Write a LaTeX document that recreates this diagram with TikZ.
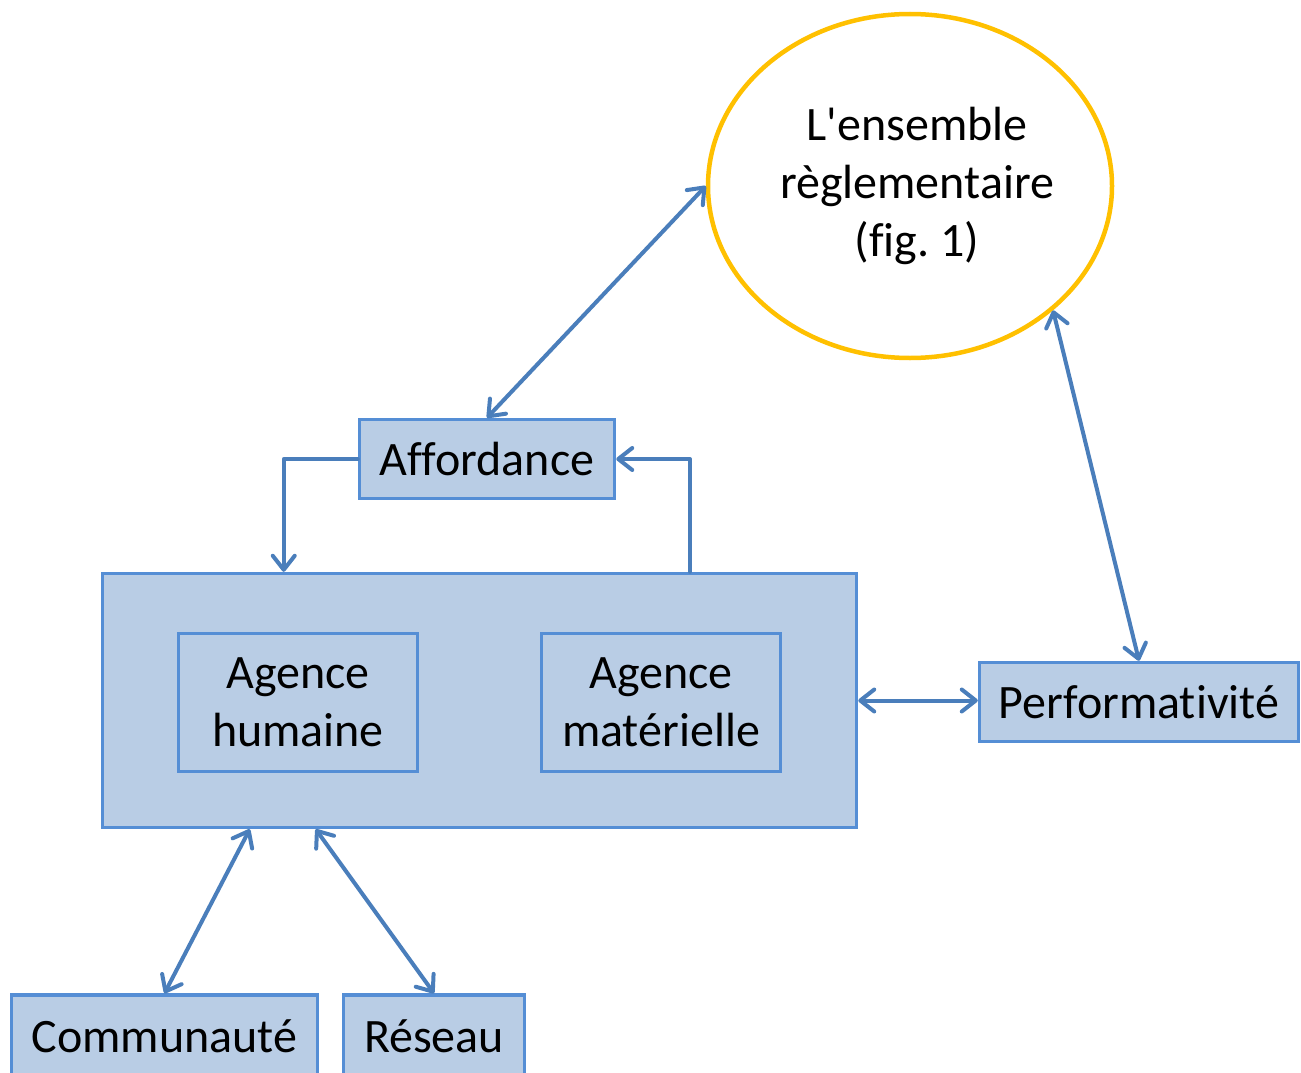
\documentclass[tikz,border=0pt]{standalone}
\usepackage{fontspec}
\setmainfont{Carlito}[Ligatures={NoCommon,TeXOff}]
\usetikzlibrary{arrows.meta,shapes.geometric}
\definecolor{boxfill}{HTML}{B9CDE5}
\definecolor{boxline}{HTML}{558ED5}
\definecolor{arrcol}{HTML}{4A7EBB}
\definecolor{ellcol}{HTML}{FFC000}
\frenchspacing
\begin{document}
\begin{tikzpicture}[x=1pt,y=-1pt,
  every node/.style={font=\fontsize{48}{58}\selectfont, align=center, inner sep=0pt},
  bluebox/.style={draw=boxline, fill=boxfill, line width=3.5pt, rectangle},
  conn/.style={draw=arrcol, line width=4pt, line cap=round, line join=round},
  tip/.style={-{Straight Barb[length=14pt,width=22pt,line cap=round,line join=round]}},
  dtip/.style={{Straight Barb[length=14pt,width=22pt,line cap=round,line join=round]}-{Straight Barb[length=14pt,width=22pt,line cap=round,line join=round]}}
]
\useasboundingbox (0,0) rectangle (1301,1073);
% ellipse
\node[ellipse, draw=ellcol, line width=4.5pt, minimum width=404pt, minimum height=344pt] (ell) at (910,186) {};
\node at ([xshift=7pt]ell.center) {L'ensemble\\règlementaire\\(fig. 1)};
% boxes
\node[bluebox, minimum width=255pt, minimum height=79pt] (aff) at (487,459) {Affordance};
\node[bluebox, minimum width=754pt, minimum height=254pt] (big) at (479.5,700.5) {};
\node[bluebox, minimum width=239pt, minimum height=138pt] (hum) at (298,702.5) {Agence\\humaine};
\node[bluebox, minimum width=239pt, minimum height=138pt] (mat) at (661,702.5) {Agence\\matérielle};
\node[bluebox, minimum width=319pt, minimum height=79pt] (perf) at (1139,702) {Performativité};
\node[bluebox, minimum width=306pt, minimum height=82pt] (comm) at (164.5,1036) {Communauté};
\node[bluebox, minimum width=181pt, minimum height=82pt] (res) at (434,1036) {Réseau};
% connectors
\draw[conn, dtip] (ell.west) -- (aff.north);
\draw[conn, dtip] (ell.-41.6) -- (perf.north);
\draw[conn, dtip] (big.east) -- (big.east -| perf.west);
\draw[conn, tip] (aff.west) -| ([xshift=183pt]big.north west);
\draw[conn, tip] ([xshift=589pt]big.north west) |- (aff.east);
\draw[conn, dtip] ([xshift=149pt]big.south west) -- (comm.north);
\draw[conn, dtip] ([xshift=215pt]big.south west) -- (res.north);
\end{tikzpicture}
\end{document}
